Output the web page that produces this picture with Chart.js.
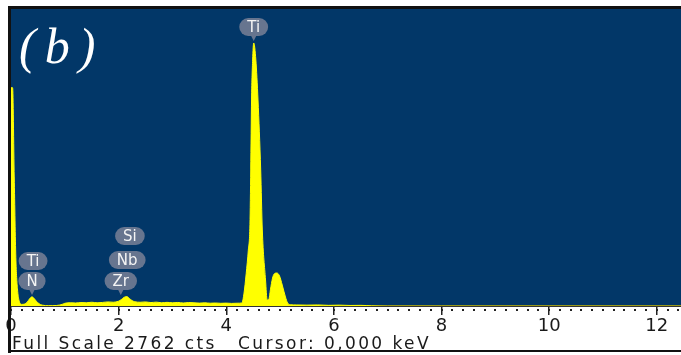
<!DOCTYPE html>
<html>
<head>
<meta charset="utf-8">
<script src="https://cdn.jsdelivr.net/npm/chart.js@4.4.1/dist/chart.umd.min.js"></script>
<style>
  body { margin: 0; background: #fff; }
  #wrap { width: 681px; height: 355px; }
</style>
</head>
<body>
<div id="wrap"><canvas id="eds" width="681" height="355"></canvas></div>
<script>
// spectrum (keV / counts)
const energy = [0, 0.03, 0.06, 0.09, 0.12, 0.15, 0.2, 0.25, 0.3, 0.35, 0.39, 0.43, 0.47, 0.52, 0.58, 0.7, 0.85, 0.95,
  1.0, 1.1, 1.2, 1.3, 1.4, 1.5, 1.6, 1.7, 1.8, 1.9, 2.0, 2.05, 2.1, 2.15, 2.2, 2.25, 2.3, 2.4, 2.5, 2.6, 2.7, 2.8, 2.9,
  3.0, 3.1, 3.2, 3.3, 3.4, 3.5, 3.6, 3.7, 3.8, 3.9, 4.0, 4.1, 4.2, 4.29, 4.33, 4.37, 4.41, 4.44, 4.455, 4.47, 4.49,
  4.51, 4.55, 4.59, 4.64, 4.67, 4.73, 4.76, 4.79, 4.82, 4.86, 4.89, 4.94, 4.99, 5.04, 5.1, 5.14, 5.19, 5.3, 5.5,
  5.7, 5.9, 6.1, 6.3, 6.5, 6.7, 7.0, 8.0, 10.0, 12.45];
const counts = [2030, 2030, 1200, 450, 160, 50, 15, 18, 35, 70, 85, 70, 45, 22, 8, 3, 5, 15,
  25, 30, 28, 32, 30, 35, 30, 33, 38, 35, 45, 60, 80, 88, 70, 50, 40, 35, 38, 32, 36, 30, 34,
  30, 33, 28, 32, 30, 27, 30, 26, 28, 25, 27, 24, 26, 28, 120, 300, 520, 760, 1265, 1916, 2288,
  2446, 2288, 1916, 1265, 707, 242, 56, 60, 150, 260, 298, 307, 279, 195, 84, 28, 12, 10, 8,
  10, 6, 8, 5, 6, 2, 0, 0, 0, 0];

const fullScale = 2762;
const tickValues = [0, 2, 4, 6, 8, 10, 12];

// element markers
const markerText = ['Ti', 'Ti', 'N', 'Si', 'Nb', 'Zr'];
const markerEnergy = [4.51, 0.41, 0.39, 2.21, 2.16, 2.04];

const BLUE = '#023768';

const frame = {
  id: 'frame',
  beforeDraw(chart) {
    const { ctx, chartArea: a } = chart;
    ctx.save();
    ctx.fillStyle = BLUE;
    ctx.fillRect(a.left, a.top, a.right - a.left, a.bottom - a.top);
    ctx.restore();
  },
  afterDraw(chart) {
    const { ctx, chartArea: a } = chart;
    const x = chart.scales.x;
    ctx.save();
    // minor tick dots every 0.2 keV
    ctx.fillStyle = '#222';
    for (let v = 0; v <= 12.45; v += 0.2) {
      const px = Math.round(x.getPixelForValue(v));
      ctx.fillRect(px - 1, a.bottom + 3, 2, 2);
    }

    // markers
    const layout = [27, 261, 281, 236, 260, 281];
    const tails = [true, false, true, false, false, true];
    ctx.font = '15px "DejaVu Sans"';
    ctx.textAlign = 'center';
    ctx.textBaseline = 'middle';
    markerText.forEach((t, i) => {
      const cx = x.getPixelForValue(markerEnergy[i]);
      const cy = layout[i];
      const w = ctx.measureText(t).width + 16, h = 18;
      ctx.fillStyle = '#67758f';
      ctx.beginPath();
      ctx.roundRect(cx - w / 2, cy - h / 2, w, h, 9);
      ctx.fill();
      if (tails[i]) {
        ctx.beginPath();
        ctx.moveTo(cx - 3, cy + h / 2 - 1);
        ctx.lineTo(cx + 3, cy + h / 2 - 1);
        ctx.lineTo(cx, cy + h / 2 + 5);
        ctx.closePath();
        ctx.fill();
      }
      ctx.fillStyle = '#f4f4f4';
      ctx.fillText(t, cx, cy + 1);
    });

    // panel letter
    ctx.fillStyle = '#fff';
    ctx.textAlign = 'left';
    ctx.textBaseline = 'alphabetic';
    ctx.font = 'italic 50px "Liberation Serif"';
    ctx.letterSpacing = '9px';
    ctx.fillText('(b)', 19, 63);

    // status line
    ctx.fillStyle = '#1a1a1a';
    ctx.font = '17px "DejaVu Sans"';
    ctx.letterSpacing = '2.4px';
    ctx.fillText('Full Scale ' + fullScale + ' cts', 12, 349);
    ctx.fillText('Cursor: 0,000 keV', 238, 349);
    ctx.letterSpacing = '0px';

    // outer border
    ctx.fillStyle = '#111';
    ctx.fillRect(8, 6, 673, 3);
    ctx.fillRect(8, 6, 3, 347);
    ctx.fillRect(8, 350, 673, 2);
    ctx.restore();
  }
};

const ctx = document.getElementById('eds').getContext('2d');
const chart = new Chart(ctx, {
  type: 'line',
  data: {
    datasets: [{
      label: 'EDS',
      data: energy.map((e, i) => ({ x: e, y: counts[i] })),
      borderColor: '#ffff00',
      backgroundColor: '#ffff00',
      borderWidth: 1,
      pointRadius: 0,
      fill: 'origin',
      cubicInterpolationMode: 'monotone'
    }]
  },
  options: {
    responsive: false,
    animation: false,
    layout: { padding: { left: 11, top: 9, right: 0, bottom: 0 } },
    plugins: { legend: { display: false }, tooltip: { enabled: false } },
    scales: {
      x: {
        type: 'linear',
        min: 0,
        max: 12.45,
        afterBuildTicks: (s) => { s.ticks = tickValues.map(v => ({ value: v })); },
        afterFit: (s) => { s.height = 49; },
        border: { display: true, color: '#333', width: 2 },
        grid: { drawOnChartArea: false, color: '#222', tickLength: 9, lineWidth: 1.5 },
        ticks: {
          autoSkip: false,
          maxRotation: 0,
          padding: 1,
          color: '#1a1a1a',
          font: { family: 'DejaVu Sans', size: 18 }
        }
      },
      y: {
        display: false,
        min: 0,
        max: fullScale
      }
    }
  },
  plugins: [frame]
});
</script>
</body>
</html>
